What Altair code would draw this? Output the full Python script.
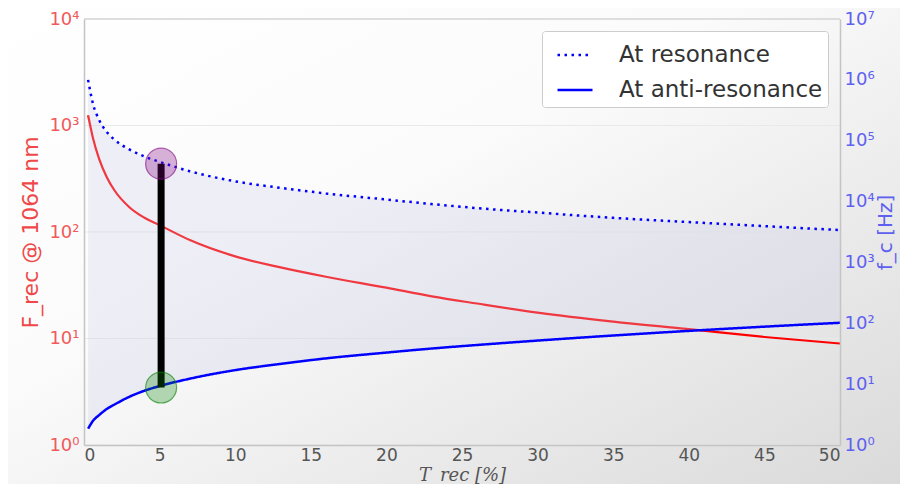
import altair as alt
import pandas as pd

# ---- data ----
t_rec = [0.27, 0.6, 1.0, 1.5, 2, 3, 4, 5, 7, 10, 13, 16, 20, 23, 26, 30, 35, 40, 45, 50]
f_rec = [1250, 756, 487, 329, 248, 171, 136, 116, 84, 59, 46.5, 38, 30.0, 24.9, 21.3,
         17.5, 14.4, 12.25, 10.33, 8.97]
fc_res = [1.0e6, 4.0e5, 2.2e5, 1.4e5, 1.05e5, 7.2e4, 5.5e4, 4.5e4, 3.15e4, 2.15e4,
          1.68e4, 1.36e4, 1.08e4, 9.1e3, 7.8e3, 6.6e3, 5.4e3, 4.6e3, 3.95e3, 3.4e3]
fc_anti = [1.85, 2.5, 3.1, 3.9, 4.6, 6.2, 7.8, 9.3, 12.3, 17, 21.5, 26.5, 33, 38.5, 44,
           52, 63, 75, 88, 102]
series_names = ["At resonance", "At anti-resonance"]
marker_t = 5.1
marker_res = 4.2e4
marker_anti = 8.8
x_ticks = [0, 5, 10, 15, 20, 25, 30, 35, 40, 45, 50]
left_ticks = [1, 10, 100, 1000, 10000]
right_ticks = [1, 10, 100, 1000, 1e4, 1e5, 1e6, 1e7]

W, H = 756, 426
n = len(t_rec)

red_df = pd.DataFrame({"T": t_rec, "F": f_rec})
blue_df = pd.DataFrame({
    "T": t_rec + t_rec,
    "fc": fc_res + fc_anti,
    "series": [series_names[0]] * n + [series_names[1]] * n,
})
band_df = pd.DataFrame({"T": t_rec, "hi": fc_res, "lo": fc_anti})
rule_df = pd.DataFrame({"T": [marker_t], "lo": [marker_anti], "hi": [marker_res]})
res_pt = pd.DataFrame({"T": [marker_t], "fc": [marker_res]})
anti_pt = pd.DataFrame({"T": [marker_t], "fc": [marker_anti]})
grid_df = pd.DataFrame({"F": left_ticks})

sup = "['\u2070','\u00b9','\u00b2','\u00b3','\u2074','\u2075','\u2076','\u2077']"
label_expr = f"'10' + {sup}[round(log(datum.value)/LN10)]"

FONT = "DejaVu Sans"
RED = "#ff0000"
BLUE = "#0000ff"
FRAME = "#c4c4c4"

x_enc = alt.X(
    "T:Q",
    scale=alt.Scale(domain=[0, 50], nice=False, zero=False),
    axis=alt.Axis(values=x_ticks, title="T_rec [%]", titleFont="DejaVu Serif",
                  titleFontStyle="italic", titleFontWeight="normal", titleFontSize=18,
                  titleColor="#555555", labelFontSize=17, labelColor="#555555",
                  labelFont=FONT, ticks=False, labelPadding=2, domain=True,
                  domainColor=FRAME, domainWidth=1.5, grid=False,
                  titleY=35, titleBaseline="alphabetic", titleX=W / 2, titleAlign="center",
                  zindex=1),
)

left_scale = alt.Scale(type="log", domain=[1, 1e4], nice=False)
left_axis = alt.Axis(orient="left", values=left_ticks, labelExpr=label_expr,
                     title="F_rec @ 1064 nm", titleColor="#f04848", titleFontSize=22,
                     titleFontWeight="normal", titleFont=FONT, labelColor="#f05a5a",
                     labelFontSize=18, labelFont=FONT, ticks=False, domain=True,
                     domainColor=FRAME, domainWidth=1.5, grid=False, labelPadding=5,
                     titlePadding=6, zindex=1)
right_scale = alt.Scale(type="log", domain=[1, 1e7], nice=False)
right_axis = alt.Axis(orient="right", values=right_ticks, labelExpr=label_expr,
                      title="f_c [Hz]", titleColor="#6060f0", titleFontSize=20,
                      titleFontWeight="normal", titleFont=FONT, titleAngle=270,
                      titleX=45, titleY=H / 2, titleAlign="center", titleBaseline="middle",
                      labelColor="#6060f0", labelFontSize=18, labelFont=FONT,
                      ticks=False, domain=True, domainColor=FRAME, domainWidth=1.5,
                      grid=False, labelPadding=4, zindex=1)

bg = alt.Chart(pd.DataFrame({"a": [0]})).mark_rect(
    clip=False,
    fill=alt.Gradient(gradient="linear", x1=0, y1=0, x2=1, y2=1,
                      stops=[alt.GradientStop(color="#ffffff", offset=0),
                             alt.GradientStop(color="#fbfbfb", offset=0.4),
                             alt.GradientStop(color="#dadada", offset=1)]),
).encode(x=alt.value(-76), x2=alt.value(W + 60), y=alt.value(-11), y2=alt.value(H + 39))

top_frame = alt.Chart(pd.DataFrame({"a": [0]})).mark_rule(color=FRAME, strokeWidth=1.5).encode(
    x=alt.value(0), x2=alt.value(W), y=alt.value(0))

grid = alt.Chart(grid_df).mark_rule(color="#e9e9e9", strokeWidth=1).encode(
    y=alt.Y("F:Q", scale=left_scale, axis=left_axis))

red_line = alt.Chart(red_df).mark_line(color=RED, strokeWidth=2.2, interpolate="monotone").encode(
    x=x_enc,
    y=alt.Y("F:Q", scale=left_scale, axis=left_axis),
)

band = alt.Chart(band_df).mark_area(color="#c9c9e6", opacity=0.28, interpolate="monotone").encode(
    x=x_enc,
    y=alt.Y("hi:Q", scale=right_scale, axis=right_axis),
    y2="lo:Q",
)

blue_lines = alt.Chart(blue_df).mark_line(color=BLUE, strokeWidth=2.5, interpolate="monotone").encode(
    x=x_enc,
    y=alt.Y("fc:Q", scale=right_scale, axis=right_axis),
    strokeDash=alt.StrokeDash(
        "series:N",
        scale=alt.Scale(domain=series_names, range=[[2.5, 4.5], [1, 0]]),
        legend=alt.Legend(title=None, orient="top-right", offset=12, labelFontSize=23,
                          labelFont=FONT, labelColor="#333333", symbolType="stroke",
                          symbolStrokeWidth=2.5, symbolSize=1225, symbolOffset=9,
                          symbolStrokeColor=BLUE, fillColor="#ffffff",
                          strokeColor="#cccccc", padding=5, rowPadding=4,
                          labelOffset=25, cornerRadius=3, labelLimit=400),
    ),
)

rule = alt.Chart(rule_df).mark_rule(color="black", strokeWidth=7).encode(
    x=x_enc,
    y=alt.Y("lo:Q", scale=right_scale, axis=right_axis),
    y2="hi:Q",
)

res_circle = alt.Chart(res_pt).mark_circle(size=960, fill="#800080", fillOpacity=0.3,
                                           stroke="#800080", strokeOpacity=0.6, strokeWidth=1.2).encode(
    x=x_enc, y=alt.Y("fc:Q", scale=right_scale, axis=right_axis))
anti_circle = alt.Chart(anti_pt).mark_circle(size=960, fill="#008000", fillOpacity=0.28,
                                             stroke="#008000", strokeOpacity=0.6, strokeWidth=1.2).encode(
    x=x_enc, y=alt.Y("fc:Q", scale=right_scale, axis=right_axis))

left_group = alt.layer(grid, red_line)
right_group = alt.layer(band, blue_lines, rule, res_circle, anti_circle)

chart = alt.layer(bg, top_frame, left_group, right_group).resolve_scale(y="independent").properties(
    width=W, height=H,
    autosize=alt.AutoSizeParams(type="none"),
    padding={"left": 76, "top": 11, "right": 60, "bottom": 39},
).configure_view(stroke=None)

chart.save("out.html", embed_options={"renderer": "svg", "actions": False})
